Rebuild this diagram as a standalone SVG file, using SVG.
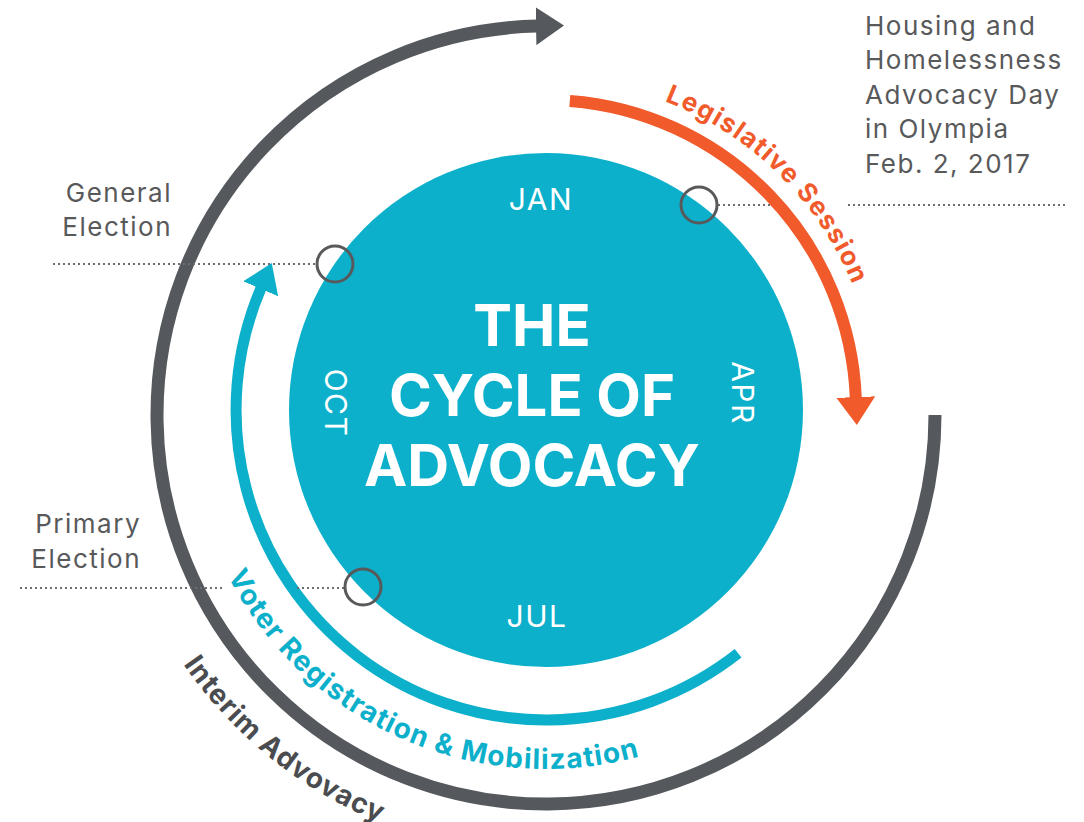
<svg xmlns="http://www.w3.org/2000/svg" width="1084" height="822" viewBox="0 0 1084 822">
  <style>
    .arc { fill: none; stroke-linecap: butt; }
    .gray { stroke: #55595d; stroke-width: 13; }
    .orange { stroke: #f15a2b; stroke-width: 12; }
    .teal { stroke: #0db0cb; stroke-width: 11; }
    .dots { stroke: #6d6e71; stroke-width: 2.2; stroke-dasharray: 2 3; fill: none; }
    .ring { fill: none; stroke: #58595b; stroke-width: 3; }
    .title { font-family: Inter, "Liberation Sans", sans-serif; font-weight: 700; font-size: 58px; fill: #ffffff; text-anchor: middle; }
    .month { font-family: Inter, "Liberation Sans", sans-serif; font-weight: 400; font-size: 30px; fill: #ffffff; text-anchor: middle; letter-spacing: 1.5px; }
    .side { font-family: Inter, "Liberation Sans", sans-serif; font-weight: 400; font-size: 26px; fill: #58595b; letter-spacing: 1.5px; }
    .curve { font-family: Inter, "Liberation Sans", sans-serif; font-weight: 700; }
  </style>
  <defs>
    <marker id="ah-gray" markerUnits="userSpaceOnUse" viewBox="0 0 28 38" refX="1" refY="19" markerWidth="28" markerHeight="38" orient="auto">
      <path d="M0 0 L28 19 L0 38 Z" fill="#55595d"/>
    </marker>
    <marker id="ah-orange" markerUnits="userSpaceOnUse" viewBox="0 0 28 39" refX="1" refY="19.5" markerWidth="28" markerHeight="39" orient="auto">
      <path d="M0 0 L28 19.5 L0 39 Z" fill="#f15a2b"/>
    </marker>
    <marker id="ah-teal" markerUnits="userSpaceOnUse" viewBox="0 0 28 38" refX="1" refY="19" markerWidth="28" markerHeight="38" orient="auto">
      <path d="M0 0 L28 19 L0 38 Z" fill="#0db0cb"/>
    </marker>
    <path id="tp-leg" d="M664.6 101 A331 331 0 0 1 872 352.5"/>
    <path id="tp-voter" d="M227.6 575.8 A359 359 0 0 0 725.5 720.9"/>
    <path id="tp-interim" d="M183.4 664.2 A440 440 0 0 0 469.6 848.3"/>
  </defs>

  <g id="interim-advocacy">
    <path class="arc gray" d="M935 415 A389 389 0 1 1 537 26.1" marker-end="url(#ah-gray)"/>
    <text class="curve" font-size="28" fill="#4a4c50" letter-spacing="1"><textPath href="#tp-interim">Interim Advovacy</textPath></text>
  </g>

  <g id="legislative-session">
    <path class="arc orange" d="M569.8 100.9 A310 310 0 0 1 855.8 398.1" marker-end="url(#ah-orange)"/>
    <text class="curve" font-size="26" fill="#f15a2b" letter-spacing="1.4"><textPath href="#tp-leg">Legislative Session</textPath></text>
  </g>

  <g id="voter-registration">
    <path class="arc teal" d="M738.1 653.3 A310 310 0 0 1 261.1 287.9" marker-end="url(#ah-teal)"/>
    <text class="curve" font-size="28" fill="#0db0cb" letter-spacing="1.2"><textPath href="#tp-voter">Voter Registration &amp; Mobilization</textPath></text>
  </g>

  <g id="cycle">
    <circle cx="546" cy="410" r="257" fill="#0db0cb"/>
    <text class="title" x="532" y="346">THE</text>
    <text class="title" x="532" y="416">CYCLE OF</text>
    <text class="title" x="532" y="486">ADVOCACY</text>
    <text class="month" x="541" y="210">JAN</text>
    <text class="month" x="537" y="627">JUL</text>
    <text class="month" transform="translate(325 403) rotate(90)">OCT</text>
    <text class="month" transform="translate(732 393) rotate(90)">APR</text>
  </g>

  <g id="connectors">
    <line class="dots" x1="53" y1="264" x2="317" y2="264"/>
    <line class="dots" x1="20" y1="588" x2="222" y2="588"/>
    <line class="dots" x1="297" y1="588" x2="345" y2="588"/>
    <line class="dots" x1="718" y1="205" x2="770" y2="205"/>
    <line class="dots" x1="848" y1="205" x2="1068" y2="205"/>
  </g>

  <g id="general-election">
    <circle class="ring" cx="335" cy="264" r="18"/>
    <text class="side" x="172" y="202" text-anchor="end">General</text>
    <text class="side" x="172" y="236" text-anchor="end">Election</text>
  </g>

  <g id="primary-election">
    <circle class="ring" cx="363" cy="587" r="18"/>
    <text class="side" x="141" y="533" text-anchor="end">Primary</text>
    <text class="side" x="141" y="568" text-anchor="end">Election</text>
  </g>

  <g id="advocacy-day">
    <circle class="ring" cx="699" cy="205" r="18"/>
    <text class="side" x="865" y="35">Housing and</text>
    <text class="side" x="865" y="69">Homelessness</text>
    <text class="side" x="865" y="104">Advocacy Day</text>
    <text class="side" x="865" y="138">in Olympia</text>
    <text class="side" x="865" y="173">Feb. 2, 2017</text>
  </g>
</svg>
